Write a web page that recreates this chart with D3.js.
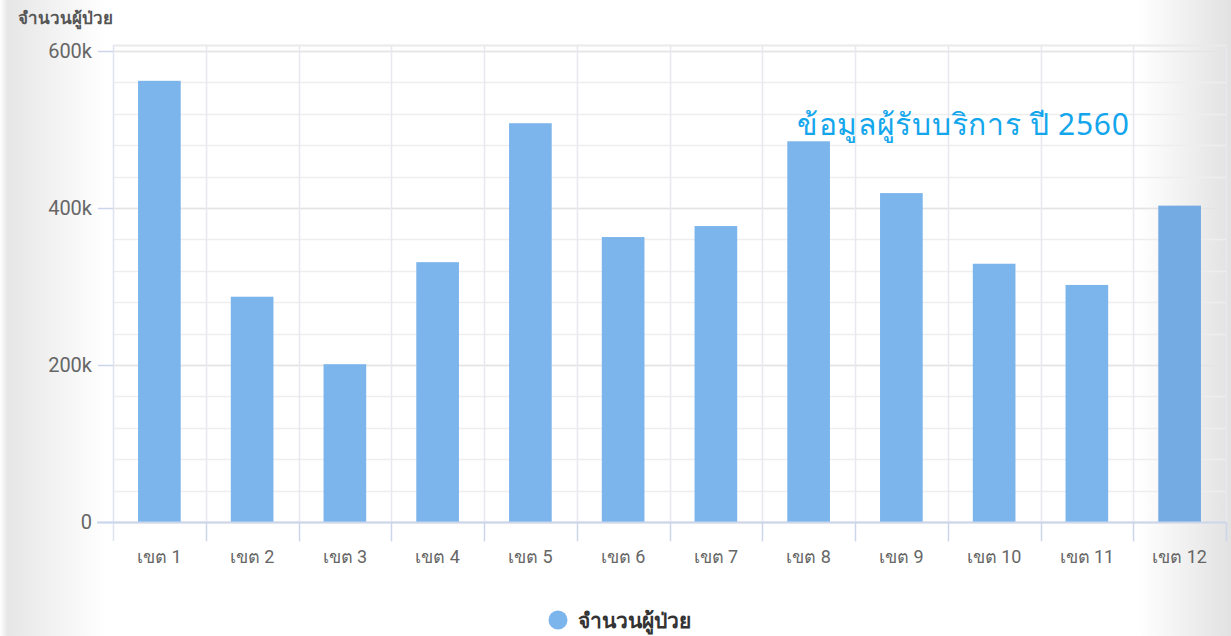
<!DOCTYPE html>
<html>
<head>
<meta charset="utf-8">
<script src="https://cdn.jsdelivr.net/npm/d3@7/dist/d3.min.js"></script>
<style>
  html, body { margin: 0; padding: 0; background: #fff; }
  svg { display: block; }
  .tick-lbl { font-family: "Liberation Sans Narrow", "Roboto", sans-serif; fill: #666; }
</style>
</head>
<body>
<svg id="chart" width="1231" height="636"></svg>
<script>
// data
var categories = ['เขต 1', 'เขต 2', 'เขต 3', 'เขต 4', 'เขต 5', 'เขต 6', 'เขต 7', 'เขต 8', 'เขต 9', 'เขต 10', 'เขต 11', 'เขต 12'];
var patients = [562000, 287000, 201000, 331000, 508000, 363000, 377000, 485000, 419000, 329000, 302000, 403000];
var yTicks = [0, 200000, 400000, 600000];
var yTickLabels = ['0', '200k', '400k', '600k'];
var seriesName = 'จำนวนผู้ป่วย';
var axisTitle = 'จำนวนผู้ป่วย';
var note = 'ข้อมูลผู้รับบริการ ปี 2560';

var W = 1231, H = 636;
var plot = { left: 113, right: 1226, top: 45, bottom: 522 };

var svg = d3.select('#chart');

// background shading at both sides
var defs = svg.append('defs');
var bg = defs.append('linearGradient').attr('id', 'bgGrad').attr('x1', 0).attr('x2', 1).attr('y1', 0).attr('y2', 0);
bg.append('stop').attr('offset', 0).attr('stop-color', '#ffffff');
bg.append('stop').attr('offset', 0.006).attr('stop-color', '#e6e6e6');
bg.append('stop').attr('offset', 0.085).attr('stop-color', '#ffffff');
bg.append('stop').attr('offset', 0.925).attr('stop-color', '#ffffff');
bg.append('stop').attr('offset', 1).attr('stop-color', '#e2e2e2');
svg.append('rect').attr('width', W).attr('height', H).attr('fill', 'url(#bgGrad)');

var x = d3.scaleBand()
    .domain(categories)
    .range([plot.left, plot.right])
    .paddingInner(0.54)
    .paddingOuter(0.27);

var xEdges = d3.scaleLinear().domain([0, categories.length]).range([plot.left, plot.right]);

var y = d3.scaleLinear()
    .domain([0, 600000])
    .range([plot.bottom, 51]);

// minor horizontal grid every 40k
var g = svg.append('g');
g.selectAll('.minor')
    .data(d3.range(0, 600001, 40000))
    .enter()
    .append('line')
    .attr('x1', plot.left).attr('x2', plot.right)
    .attr('y1', function(d) { return Math.round(y(d)) + 0.5 })
    .attr('y2', function(d) { return Math.round(y(d)) + 0.5 })
    .attr('stroke', '#eeeeee').attr('stroke-width', 1.5);
g.selectAll('.major')
    .data(yTicks)
    .enter()
    .append('line')
    .attr('x1', plot.left).attr('x2', plot.right)
    .attr('y1', function(d) { return Math.round(y(d)) + 0.5 })
    .attr('y2', function(d) { return Math.round(y(d)) + 0.5 })
    .attr('stroke', '#e4e4e4').attr('stroke-width', 1.5);
// top border
g.append('line')
    .attr('x1', plot.left).attr('x2', plot.right)
    .attr('y1', plot.top + 0.5).attr('y2', plot.top + 0.5)
    .attr('stroke', '#eaeaea').attr('stroke-width', 2);

// vertical category lines
g.selectAll('.vline')
    .data(d3.range(0, categories.length + 1))
    .enter()
    .append('line')
    .attr('x1', function(d) { return Math.round(xEdges(d)) + 0.5 })
    .attr('x2', function(d) { return Math.round(xEdges(d)) + 0.5 })
    .attr('y1', plot.top)
    .attr('y2', function(d) { return d == 0 ? plot.bottom + 19 : plot.bottom })
    .attr('stroke', function(d) { return d == 0 ? '#dde3f0' : '#e8e8ee' })
    .attr('stroke-width', 1.5);

// bars
svg.append('g')
    .selectAll('rect')
    .data(patients)
    .enter()
    .append('rect')
    .attr('x', function(d, i) { return x(categories[i]) })
    .attr('width', x.bandwidth())
    .attr('y', function(d) { return y(d) })
    .attr('height', function(d) { return y(0) - y(d) })
    .attr('fill', function(d, i) { return i == categories.length - 1 ? '#74abe2' : '#7cb5ec' });

// x axis
var xAxis = svg.append('g').attr('transform', 'translate(0,' + (plot.bottom + 0.5) + ')');
xAxis.append('line')
    .attr('x1', plot.left - 16).attr('x2', plot.right)
    .attr('stroke', '#ccd6eb').attr('stroke-width', 2);
xAxis.selectAll('.tk')
    .data(d3.range(1, categories.length + 1))
    .enter()
    .append('line')
    .attr('x1', function(d) { return Math.round(xEdges(d)) + 0.5 })
    .attr('x2', function(d) { return Math.round(xEdges(d)) + 0.5 })
    .attr('y1', 0).attr('y2', 19)
    .attr('stroke', '#ccd6eb').attr('stroke-width', 1.5);
xAxis.selectAll('text')
    .data(categories)
    .enter()
    .append('text')
    .attr('class', 'tick-lbl')
    .attr('x', function(d) { return x(d) + x.bandwidth() / 2 })
    .attr('y', 40)
    .attr('text-anchor', 'middle')
    .style('font-size', '18px')
    .text(function(d) { return d });

// y axis labels + small tick stubs
var yAxis = svg.append('g');
yAxis.selectAll('text')
    .data(yTicks)
    .enter()
    .append('text')
    .attr('class', 'tick-lbl')
    .attr('x', 92)
    .attr('y', function(d) { return y(d) + 7 })
    .attr('text-anchor', 'end')
    .style('font-size', '20px')
    .text(function(d, i) { return yTickLabels[i] });
yAxis.selectAll('line')
    .data(yTicks)
    .enter()
    .append('line')
    .attr('x1', 98).attr('x2', plot.left)
    .attr('y1', function(d) { return Math.round(y(d)) + 0.5 })
    .attr('y2', function(d) { return Math.round(y(d)) + 0.5 })
    .attr('stroke', '#ccd6eb').attr('stroke-width', 1.5);

// axis title
svg.append('text')
    .attr('x', 18).attr('y', 24)
    .style('font-family', '"Noto Sans", sans-serif')
    .style('font-size', '17px')
    .style('font-weight', 'bold')
    .attr('fill', '#555')
    .text(axisTitle);

// note
svg.append('text')
    .attr('x', 797).attr('y', 135)
    .style('font-family', '"Noto Sans", sans-serif')
    .style('font-size', '30px')
    .style('letter-spacing', '0.7px')
    .attr('fill', '#14a6ec')
    .text(note);

// legend
var legend = svg.append('g').attr('transform', 'translate(558,620)');
legend.append('circle').attr('r', 9.5).attr('fill', '#7cb5ec');
legend.append('text')
    .attr('x', 20).attr('y', 8)
    .style('font-family', '"Noto Sans", sans-serif')
    .style('font-size', '21px')
    .style('font-weight', 'bold')
    .attr('fill', '#333')
    .text(seriesName);
</script>
</body>
</html>
